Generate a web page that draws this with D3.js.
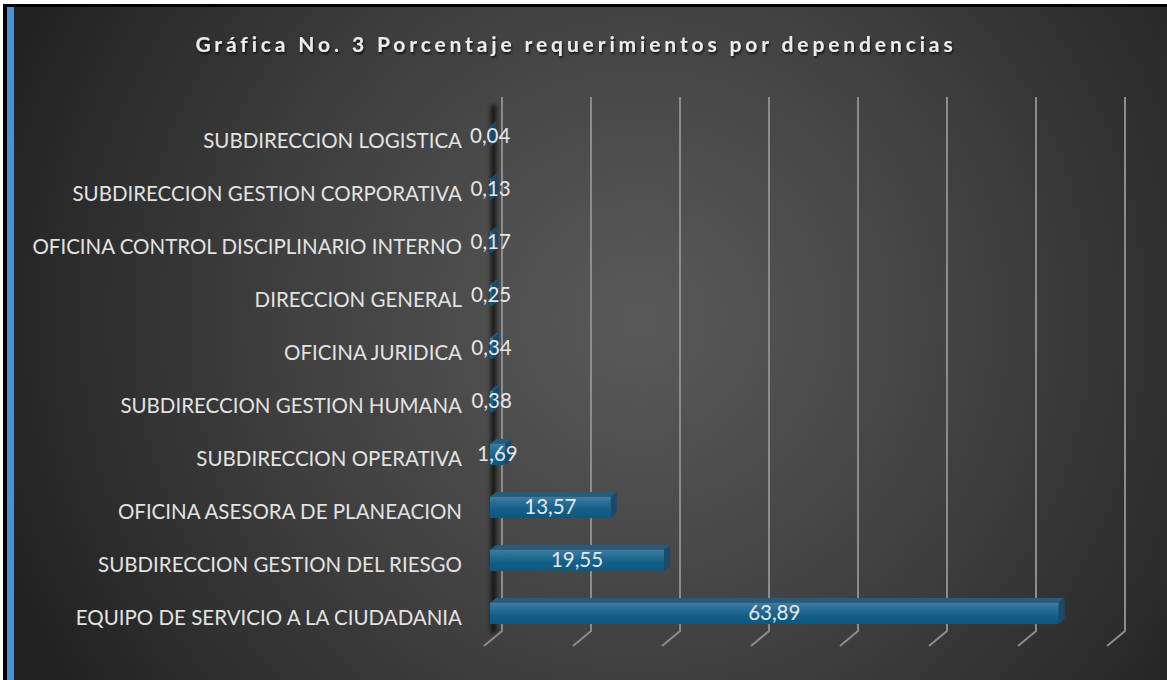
<!DOCTYPE html>
<html><head><meta charset="utf-8">
<script src="https://cdn.jsdelivr.net/npm/d3@7"></script>
<style>html,body{margin:0;padding:0;background:#fff;overflow:hidden}</style>
</head><body>
<svg id="c" width="1167" height="680"></svg>
<script>
const title = "Gráfica No. 3 Porcentaje requerimientos por dependencias";
const categories = [
  "SUBDIRECCION LOGISTICA",
  "SUBDIRECCION GESTION CORPORATIVA",
  "OFICINA CONTROL DISCIPLINARIO INTERNO",
  "DIRECCION GENERAL",
  "OFICINA JURIDICA",
  "SUBDIRECCION GESTION HUMANA",
  "SUBDIRECCION OPERATIVA",
  "OFICINA ASESORA DE PLANEACION",
  "SUBDIRECCION GESTION DEL RIESGO",
  "EQUIPO DE SERVICIO A LA CIUDADANIA"
];
const values = [0.04, 0.13, 0.17, 0.25, 0.34, 0.38, 1.69, 13.57, 19.55, 63.89];
const valueLabels = ["0,04","0,13","0,17","0,25","0,34","0,38","1,69","13,57","19,55","63,89"];
const xTicks = [0,10,20,30,40,50,60,70];

const svg = d3.select("#c");
const W = 1167, H = 680;
const defs = svg.append("defs");

const bg = defs.append("radialGradient").attr("id","bg")
  .attr("gradientUnits","userSpaceOnUse").attr("cx",640).attr("cy",320).attr("r",680);
bg.append("stop").attr("offset","0").attr("stop-color","#5a5a5a");
bg.append("stop").attr("offset","0.55").attr("stop-color","#3e3e3e");
bg.append("stop").attr("offset","1").attr("stop-color","#222");

const fg = defs.append("linearGradient").attr("id","front").attr("x1",0).attr("y1",0).attr("x2",0).attr("y2",1);
fg.append("stop").attr("offset","0").attr("stop-color","#3f7c9f");
fg.append("stop").attr("offset","0.3").attr("stop-color","#266d95");
fg.append("stop").attr("offset","0.6").attr("stop-color","#135f88");
fg.append("stop").attr("offset","1").attr("stop-color","#0c5780");

const blur = defs.append("filter").attr("id","blur").attr("x","-200%").attr("width","500%");
blur.append("feGaussianBlur").attr("stdDeviation",2.2);

const sh = defs.append("filter").attr("id","tsh");
sh.append("feDropShadow").attr("dx",1).attr("dy",2).attr("stdDeviation",1.2).attr("flood-color","#000").attr("flood-opacity",0.7);

// frame
svg.append("rect").attr("x",3).attr("y",4).attr("width",W-3).attr("height",H-4).attr("fill","#000");
svg.append("rect").attr("x",14).attr("y",7).attr("width",W-14).attr("height",H-7).attr("fill","url(#bg)");
svg.append("rect").attr("x",7).attr("y",7).attr("width",7).attr("height",H-7).attr("fill","#4a90d9");

// scales
const depth = {dx:6, dy:-5};
const x = d3.scaleLinear().domain([0,70]).range([490, 490 + 70*8.9]);
const y = d3.scaleBand().domain(categories).range([110,640]).paddingInner(0.6).paddingOuter(0.3);
const gridTop = 97, gridBottom = 631;

// gridlines (back wall) with floor diagonal
svg.append("g").selectAll("path").data(xTicks).join("path")
  .attr("d", t => {
    const xb = x(t) + 2*depth.dx;
    return `M${xb},${gridTop}L${xb},${gridBottom}L${xb-18},${gridBottom+15}`;
  })
  .attr("fill","none").attr("stroke","#8c8c8c").attr("stroke-width",2);

// left wall shadow
svg.append("rect").attr("x", x(0)+1).attr("y", gridTop+8).attr("width",5).attr("height", gridBottom-gridTop-6)
  .attr("fill","#000").attr("opacity",0.75).attr("filter","url(#blur)");

// bars
const data = categories.map((c,i)=>({c, v:values[i], l:valueLabels[i]}));
const bh = y.bandwidth();
const bars = svg.append("g").selectAll("g").data(data).join("g");
bars.append("path").attr("fill","#2b5a79")
  .attr("d", d => {
    const x0=x(0), x1=x(d.v), yy=y(d.c);
    return `M${x0},${yy}L${x0+depth.dx},${yy+depth.dy}L${x1+depth.dx},${yy+depth.dy}L${x1},${yy}Z`;
  });
bars.append("path").attr("fill","#1a4a69")
  .attr("d", d => {
    const x1=x(d.v), yy=y(d.c);
    return `M${x1},${yy}L${x1+depth.dx},${yy+depth.dy}L${x1+depth.dx},${yy+bh+depth.dy}L${x1},${yy+bh}Z`;
  });
bars.append("rect").attr("fill","url(#front)")
  .attr("x", x(0)).attr("y", d=>y(d.c))
  .attr("width", d=>Math.max(0.5, x(d.v)-x(0))).attr("height", bh);

// value labels
svg.append("g").selectAll("text").data(data).join("text")
  .attr("x", d => (x(0)+x(d.v))/2)
  .attr("y", d => y(d.c) + bh/2 + 1)
  .attr("text-anchor","middle").attr("dominant-baseline","middle")
  .attr("font-family","Lato, 'Open Sans', sans-serif").attr("font-size",20.5)
  .attr("fill","#e6e6e6").text(d=>d.l);

// category labels
svg.append("g").selectAll("text").data(data).join("text")
  .attr("x", 462).attr("y", d => y(d.c) + bh/2 + 6)
  .attr("text-anchor","end").attr("dominant-baseline","middle")
  .attr("font-family","Lato, 'Open Sans', sans-serif").attr("font-size",20.5)
  .attr("fill","#e2e2e2").text(d=>d.c);

// title (letter spacing fitted to the reference's span)
const tt = svg.append("text").attr("x",574).attr("y",52)
  .attr("text-anchor","middle")
  .attr("font-family","Lato, 'Open Sans', sans-serif").attr("font-weight","bold").attr("font-size",21)
  .attr("fill","#ececec").attr("filter","url(#tsh)").text(title);
const w0 = tt.node().getComputedTextLength();
const ls = Math.max(0, (757 - w0) / (title.length - 1));
tt.attr("letter-spacing", ls + "px").attr("x", 574 + ls/2);
</script>
</body></html>
